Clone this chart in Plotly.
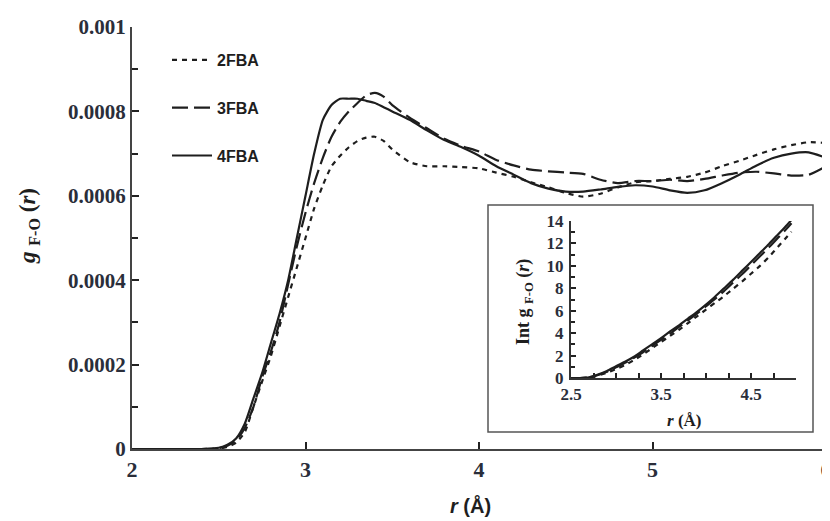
import plotly.graph_objects as go

# ---------------- main panel data: g_F-O(r) ----------------
r_main = [2.0, 2.1, 2.2, 2.3, 2.4, 2.5, 2.55, 2.6, 2.65, 2.7, 2.75, 2.8, 2.85, 2.9, 2.95,
          3.0, 3.05, 3.1, 3.15, 3.2, 3.25, 3.3, 3.35, 3.4, 3.45, 3.5, 3.6, 3.7, 3.8, 3.9,
          4.0, 4.1, 4.2, 4.3, 4.4, 4.5, 4.6, 4.7, 4.8, 4.9, 5.0, 5.1, 5.2, 5.3, 5.4, 5.5,
          5.6, 5.7, 5.8, 5.9, 6.0]

g_2fba = [0, 0, 0, 0, 0, 0.000001, 0.000005, 0.000015, 0.00004, 0.0001, 0.00016, 0.00022,
          0.00029, 0.00036, 0.00043, 0.0005, 0.00057, 0.000625, 0.00067, 0.000695, 0.000715,
          0.00073, 0.000738, 0.00074, 0.00073, 0.00071, 0.00068, 0.00067, 0.00067, 0.000668,
          0.000665, 0.000655, 0.000645, 0.000632, 0.00062, 0.000607, 0.000598, 0.000605,
          0.00062, 0.000632, 0.000635, 0.00064, 0.000645, 0.000655, 0.00067, 0.000683,
          0.000697, 0.00071, 0.00072, 0.000727, 0.000725]

g_3fba = [0, 0, 0, 0, 0, 0.000002, 0.000008, 0.00002, 0.00005, 0.0001, 0.00017, 0.00023,
          0.0003, 0.00039, 0.00048, 0.00056, 0.00063, 0.00069, 0.00074, 0.000775, 0.0008,
          0.00082, 0.000838, 0.000844, 0.000835, 0.000815, 0.000785, 0.00076, 0.000735,
          0.000718, 0.000705, 0.000685, 0.000672, 0.000662, 0.000658, 0.000655, 0.000652,
          0.000638, 0.00063, 0.000635, 0.000635, 0.000638, 0.000635, 0.00064, 0.000648,
          0.000655, 0.000657, 0.000653, 0.000648, 0.00065, 0.00067]

g_4fba = [0, 0, 0, 0, 0, 0.000003, 0.00001, 0.000025, 0.00006, 0.00012, 0.00018, 0.00025,
          0.00032, 0.0004, 0.0005, 0.0006, 0.0007, 0.00078, 0.000815, 0.00083, 0.00083,
          0.00083, 0.000825, 0.00082, 0.00081, 0.0008, 0.00078, 0.000755, 0.000732, 0.000715,
          0.000695, 0.00067, 0.00065, 0.00063, 0.000617, 0.00061, 0.00061, 0.000615, 0.000621,
          0.000625, 0.000622, 0.000613, 0.000607, 0.000613, 0.00063, 0.00065, 0.000672,
          0.00069, 0.0007, 0.000703, 0.00069]

y_tickvals = [0, 0.0002, 0.0004, 0.0006, 0.0008, 0.001]
y_ticktext = ["0", "0.0002", "0.0004", "0.0006", "0.0008", "0.001"]
x_tickvals = [2, 3, 4, 5, 6]

# ---------------- inset data: running integral ----------------
r_inset = [2.5, 2.6, 2.7, 2.8, 2.9, 3.0, 3.1, 3.2, 3.3, 3.4, 3.5, 3.6, 3.7, 3.8, 3.9,
           4.0, 4.1, 4.2, 4.3, 4.4, 4.5, 4.6, 4.7, 4.8, 4.9, 4.95]
int_2fba = [0, 0, 0.04, 0.22, 0.48, 0.8, 1.15, 1.6, 2.1, 2.65, 3.2, 3.75, 4.3, 4.9, 5.5,
            6.1, 6.7, 7.3, 7.95, 8.6, 9.3, 10.0, 10.8, 11.7, 12.6, 13.05]
int_3fba = [0, 0, 0.05, 0.27, 0.55, 0.95, 1.35, 1.8, 2.3, 2.85, 3.4, 3.95, 4.55, 5.15, 5.75,
            6.4, 7.05, 7.75, 8.5, 9.25, 10.05, 10.85, 11.65, 12.5, 13.35, 13.8]
int_4fba = [0, 0, 0.06, 0.3, 0.62, 1.05, 1.45, 1.9, 2.45, 3.0, 3.55, 4.15, 4.7, 5.3, 5.9,
            6.55, 7.25, 8.0, 8.75, 9.55, 10.35, 11.15, 11.95, 12.8, 13.65, 14.1]

names = ["2FBA", "3FBA", "4FBA"]
dashes = ["5px,5px", "16px,6px", "solid"]

SERIF = "Liberation Serif, Times New Roman, serif"
SANS = "Liberation Sans, Arial, sans-serif"
INK = "#1e1e1e"
TICKC = "#2a2e3a"

fig = go.Figure()

for nm, ys, ds in zip(names, [g_2fba, g_3fba, g_4fba], dashes):
    fig.add_trace(go.Scatter(
        x=r_main, y=ys, mode="lines", name=nm, legendgroup=nm,
        line=dict(color=INK, width=2.2, dash=ds, shape="spline", smoothing=0.6),
        xaxis="x", yaxis="y"))

for nm, ys, ds in zip(names, [int_2fba, int_3fba, int_4fba], dashes):
    fig.add_trace(go.Scatter(
        x=r_inset, y=ys, mode="lines", name=nm, showlegend=False,
        line=dict(color=INK, width=2.2, dash=ds, shape="spline", smoothing=0.6),
        xaxis="x2", yaxis="y2"))

# page body has an 8px margin: the figure div starts at (8, 8) in the window
OFF = 8
W, H = 830 - OFF, 521 - OFF
L, R, T, B = 132 - OFF, 4, 27 - OFF, 72
pw, ph = W - L - R, H - T - B

def px(xp):  # window pixel -> paper x
    return (xp - OFF - L) / pw

def py(yp):  # window pixel -> paper y
    return (OFF + T + ph - yp) / ph

fig.update_layout(
    width=W, height=H,
    margin=dict(l=L, r=R, t=T, b=B, autoexpand=False),
    paper_bgcolor="white", plot_bgcolor="rgba(0,0,0,0)",
    showlegend=True,
    legend=dict(x=px(167), y=py(43), xanchor="left", yanchor="top",
                font=dict(family=SANS, size=16, color=INK, weight="bold"),
                tracegroupgap=24, bgcolor="rgba(0,0,0,0)", itemwidth=40),
    xaxis=dict(domain=[0, 1], range=[2, 6], tickvals=x_tickvals, automargin=False,
               showline=True, linecolor="#444", linewidth=2,
               ticks="inside", ticklen=7, tickwidth=2, tickcolor="#222",
               showgrid=False, zeroline=False, ticklabeloverflow="allow",
               tickfont=dict(family=SERIF, size=22, color=TICKC, weight="bold")),
    yaxis=dict(domain=[0, 1], range=[0, 0.001], tickvals=y_tickvals, ticktext=y_ticktext,
               automargin=False,
               showline=True, linecolor="#444", linewidth=2,
               ticks="inside", ticklen=7, tickwidth=2, tickcolor="#222",
               minor=dict(ticks="inside", dtick=0.0001, ticklen=6, tickwidth=2, tickcolor="#222"),
               showgrid=False, zeroline=False, ticklabeloverflow="allow",
               tickfont=dict(family=SERIF, size=21, color=TICKC, weight="bold")),
    xaxis2=dict(domain=[px(571), px(796)], range=[2.5, 5.0], anchor="y2", automargin=False,
                tickmode="linear", tick0=2.5, dtick=1,
                showline=True, linecolor="#333", linewidth=2,
                ticks="inside", ticklen=5, tickwidth=2, tickcolor="#222",
                minor=dict(ticks="inside", dtick=0.25, tick0=2.5, ticklen=5, tickwidth=2, tickcolor="#222"),
                showgrid=False, zeroline=False,
                tickfont=dict(family=SERIF, size=17, color=TICKC, weight="bold")),
    yaxis2=dict(domain=[py(378), py(221)], range=[0, 14], anchor="x2", automargin=False,
                tickmode="linear", tick0=0, dtick=2,
                showline=True, linecolor="#333", linewidth=2,
                ticks="inside", ticklen=5, tickwidth=2, tickcolor="#222",
                minor=dict(ticks="inside", dtick=1, ticklen=4, tickwidth=2, tickcolor="#222"),
                showgrid=False, zeroline=False, ticklabelstandoff=2,
                tickfont=dict(family=SERIF, size=17, color=TICKC, weight="bold")),
    shapes=[dict(type="rect", xref="paper", yref="paper",
                 x0=px(488), x1=px(813), y0=py(432), y1=py(205),
                 line=dict(color="#555", width=1.5), fillcolor="white", layer="below")],
    annotations=[
        dict(xref="paper", yref="paper", x=px(29), y=py(226), textangle=-90, showarrow=False,
             xanchor="center", yanchor="middle",
             text="<i>g</i> <sub>F-O</sub> (<i>r</i>)",
             font=dict(family=SERIF, size=23, color=INK, weight="bold")),
        dict(xref="paper", yref="paper", x=px(470), y=py(505), showarrow=False,
             xanchor="center", yanchor="middle",
             text="<i>r</i> (Å)",
             font=dict(family=SANS, size=20, color=INK, weight="bold")),
        dict(xref="paper", yref="paper", x=px(524), y=py(302), textangle=-90, showarrow=False,
             xanchor="center", yanchor="middle",
             text="Int g <sub>F-O</sub> (<i>r</i>)",
             font=dict(family=SERIF, size=18, color=INK, weight="bold")),
        dict(xref="paper", yref="paper", x=px(684), y=py(420), showarrow=False,
             xanchor="center", yanchor="middle",
             text="<i>r</i> (Å)",
             font=dict(family=SERIF, size=17, color=INK, weight="bold")),
    ],
)

fig.write_html("out.html")
